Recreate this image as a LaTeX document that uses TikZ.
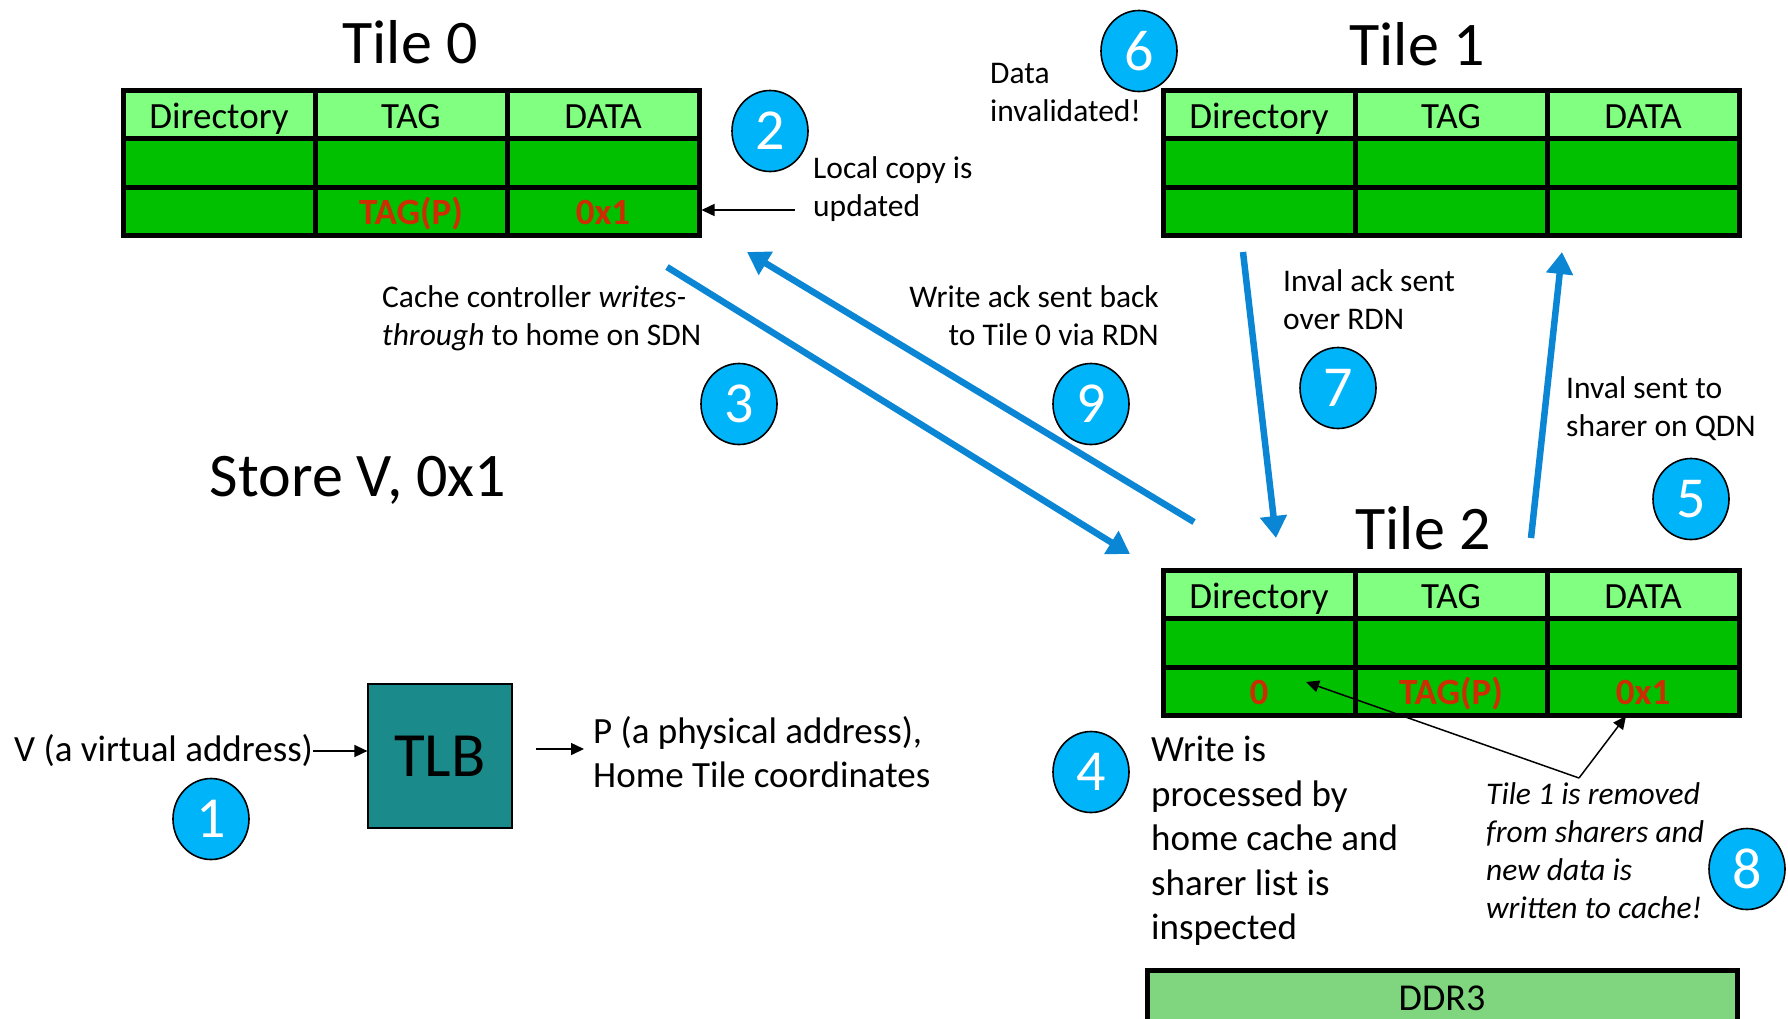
\documentclass[tikz,border=0pt]{standalone}
\usepackage{fontspec}
\setmainfont{Carlito}
\usetikzlibrary{shapes.geometric,arrows.meta}
\definecolor{hdrgreen}{RGB}{128,255,128}
\definecolor{bodygreen}{RGB}{0,192,0}
\definecolor{ddrgreen}{RGB}{127,214,127}
\definecolor{numblue}{RGB}{0,180,250}
\definecolor{arrowblue}{RGB}{10,134,212}
\definecolor{tealbox}{RGB}{27,138,138}
\definecolor{redtxt}{RGB}{205,45,0}
\tikzset{
  cellbase/.style={draw=black, line width=5pt, minimum width=192pt, minimum height=48.3pt, inner sep=0pt},
  hdr/.style={cellbase, fill=hdrgreen, font=\fontsize{37}{37}\selectfont, text height=27pt, text depth=0pt},
  body/.style={cellbase, fill=bodygreen},
  redval/.style={text=redtxt, font=\fontsize{37}{37}\selectfont\bfseries, inner sep=0pt, text height=27pt, text depth=0pt},
  title/.style={font=\fontsize{62}{62}\selectfont, inner sep=0pt},
  num/.style={ellipse, draw=black, line width=1.6pt, fill=numblue, text=white, minimum width=76pt, minimum height=81pt, inner sep=0pt, font=\fontsize{58}{58}\selectfont},
  small/.style={font=\fontsize{31.5}{38}\selectfont, inner sep=0pt},
  big/.style={font=\fontsize{37}{44.5}\selectfont, inner sep=0pt},
  bluearrow/.style={draw=arrowblue, line width=6.5pt, -{Triangle[width=26pt,length=22pt]}},
  thinarrow/.style={draw=black, line width=1.5pt, -{Triangle[width=12pt,length=13pt]}},
}
\newcommand{\cachetable}[3]{%
  \foreach \c/\h in {1/Directory,2/TAG,3/DATA}{
    \node[hdr] (#1-1-\c) at ({#2+(\c-0.5)*192}, {#3+24.15}) {\h};
    \node[body] (#1-2-\c) at ({#2+(\c-0.5)*192}, {#3+72.45}) {};
    \node[body] (#1-3-\c) at ({#2+(\c-0.5)*192}, {#3+120.75}) {};
  }
}
\begin{document}
\begin{tikzpicture}[x=1pt, y=-1pt]
\useasboundingbox (0,0) rectangle (1788,1018);

% titles
\node[title] (t0title) at (410,42) {Tile 0};
\node[title] (t1title) at (1417,44) {Tile 1};
\node[title] (t2title) at (1423,528) {Tile 2};
\node[title] (store) at (358,480) {Store V, 0x1};

% tables
\cachetable{tz}{123}{90.5}
\cachetable{to}{1163}{90.5}
\cachetable{tt}{1163}{570.5}

\node[redval] (tzv1) at (tz-3-2) {TAG(P)};
\node[redval] (tzv2) at (tz-3-3) {0x1};
\node[redval] (ttv0) at (tt-3-1) {0};
\node[redval] (ttv1) at (tt-3-2) {TAG(P)};
\node[redval] (ttv2) at (tt-3-3) {0x1};

% DDR3
\node[draw=black, line width=5pt, fill=ddrgreen, minimum width=590pt, minimum height=60pt, inner sep=0pt, anchor=north west] (ddr) at (1145,968) {};
\node[font=\fontsize{38}{38}\selectfont, inner sep=0pt] (ddrlbl) at (1442,998) {DDR3};

% TLB
\node[draw=black, line width=1.2pt, fill=tealbox, minimum width=144pt, minimum height=144pt, inner sep=0pt, font=\fontsize{63}{63}\selectfont] (tlb) at (440,756) {TLB};
\node[big, anchor=west] (vaddr) at (14,751) {V (a virtual address)};
\draw[thinarrow] (vaddr.east) -- (tlb.west |- vaddr.east);
\coordinate (pstart) at (536,749);
\node[big, anchor=north west, align=left] (paddr) at (593,716) {P (a physical address),\\Home Tile coordinates};
\draw[thinarrow] (pstart) -- (584,749);

% numbered circles
\node[num] (n1) at (211,819) {1};
\node[num] (n2) at (770,131) {2};
\node[num] (n3) at (739,404) {3};
\node[num] (n4) at (1091,772) {4};
\node[num] (n5) at (1691,499) {5};
\node[num] (n6) at (1139,51) {6};
\node[num] (n7) at (1338,388) {7};
\node[num] (n8) at (1747,869) {8};
\node[num] (n9) at (1091,404) {9};

% annotations
\node[small, anchor=north west, align=left] (local) at (813,156.5) {Local copy is\\updated};
\coordinate (localtail) at (795,210);
\draw[thinarrow] (localtail) -- (tz-3-3.east |- localtail);

\node[small, anchor=north west, align=left] (inval) at (990,63) {Data\\invalidated!};
\node[small, anchor=north west, align=left] (cachectl) at (382,285) {Cache controller \textit{writes-}\\\textit{through} to home on SDN};
\node[small, anchor=north east, align=right] (wack) at (1159,285) {Write ack sent back\\to Tile 0 via RDN};
\node[small, anchor=north west, align=left] (iack) at (1283,269) {Inval ack sent\\over RDN};
\node[small, anchor=north west, align=left] (isent) at (1566,376) {Inval sent to\\sharer on QDN};
\node[big, anchor=north west, align=left] (wproc) at (1151,736) {Write is\\processed by\\home cache and\\sharer list is\\inspected};
\node[small, anchor=north west, align=left, font=\fontsize{31.5}{38.2}\selectfont\itshape] (removed) at (1486,782) {Tile 1 is removed\\from sharers and\\new data is\\written to cache!};

% thin arrows in Tile 2
\coordinate (junc) at (1579,778);
\coordinate (zerotip) at (1306,682);
\coordinate (datatip) at (1626,716);
\draw[thinarrow] (junc) -- (zerotip);
\draw[thinarrow] (junc) -- (datatip);

% blue arrows
\coordinate (a3s) at (667,267);
\coordinate (a3e) at (1130,554);
\coordinate (a9s) at (1194,522);
\coordinate (a9e) at (747,252);
\coordinate (a7s) at (1243,252);
\coordinate (a7e) at (1276,538);
\coordinate (a5s) at (1531,538);
\coordinate (a5e) at (1562,252);
\draw[bluearrow] (a3s) -- (a3e);
\draw[bluearrow] (a9s) -- (a9e);
\draw[bluearrow] (a7s) -- (a7e);
\draw[bluearrow] (a5s) -- (a5e);
\end{tikzpicture}
\end{document}
